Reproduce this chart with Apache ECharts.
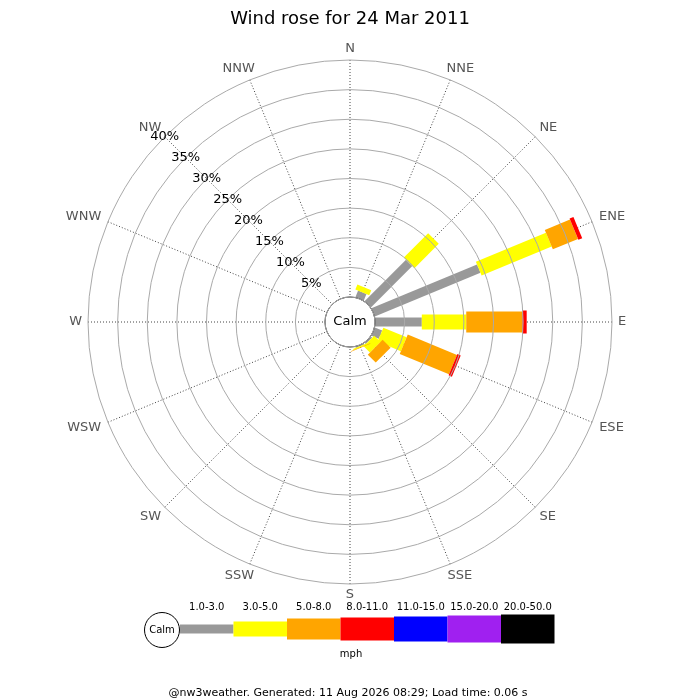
<!DOCTYPE html>
<html><head><meta charset="utf-8">
<script src="https://cdn.jsdelivr.net/npm/echarts@6/dist/echarts.min.js"></script>
<style>html,body{margin:0;padding:0;background:#fff}#c{width:700px;height:700px}</style>
</head><body><div id="c"></div>
<script>
const directions = ['N','NNE','NE','ENE','E','ESE','SE','SSE','S','SSW','SW','WSW','W','WNW','NW','NNW'];
const speedClasses = ['1.0-3.0','3.0-5.0','5.0-8.0','8.0-11.0','11.0-15.0','15.0-20.0','20.0-50.0'];
const speedColors = ['#999999','#ffff00','#ffa500','#ff0000','#0000ff','#a020f0','#000000'];
const barWidths = [9, 15, 21, 23, 25, 27, 29];
// percent of time, per direction (N..NNW), per speed class
const s1to3   = [0, 1.2, 9.9, 19.3, 7.9, 1.35, 0.3, 0.2, 0, 0, 0, 0, 0, 0, 0, 0];
const s3to5   = [0, 0.9, 5.8, 12.8, 7.5, 4.25, 1.5, 0.2, 0, 0, 0, 0, 0, 0, 0, 0];
const s5to8   = [0, 0,   0,   4.6,  9.5, 9.0,  1.9, 0.1, 0, 0, 0, 0, 0, 0, 0, 0];
const s8to11  = [0, 0,   0,   0.7,  0.7, 0.6,  0,   0,   0, 0, 0, 0, 0, 0, 0, 0];
const s11to15 = [0, 0, 0, 0, 0, 0, 0, 0, 0, 0, 0, 0, 0, 0, 0, 0];
const s15to20 = [0, 0, 0, 0, 0, 0, 0, 0, 0, 0, 0, 0, 0, 0, 0, 0];
const s20to50 = [0, 0, 0, 0, 0, 0, 0, 0, 0, 0, 0, 0, 0, 0, 0, 0];
const radiusMax = 40;
const radiusStep = 5;
const titleText = 'Wind rose for 24 Mar 2011';
const footerText = '@nw3weather. Generated: 11 Aug 2026 08:29; Load time: 0.06 s';
const unitText = 'mph';
const calmText = 'Calm';

const allSeries = [s1to3, s3to5, s5to8, s8to11, s11to15, s15to20, s20to50];
const dirAngle = i => { const a = i * 22.5; return a > 315 ? a - 360 : a; };
const barData = [];
const cum = directions.map(() => 0);
allSeries.forEach((vals, k) => {
  vals.forEach((v, i) => {
    if (v > 0) {
      barData.push([dirAngle(i), cum[i], cum[i] + v, k]);
      cum[i] += v;
    }
  });
});
const labelData = directions.map((d, i) => [dirAngle(i), radiusMax, i]);

const FONT = 'DejaVu Sans';
const measureCtx = document.createElement('canvas').getContext('2d');
measureCtx.font = '13px ' + FONT;

const chart = echarts.init(document.getElementById('c'), null, {renderer: 'canvas'});

const legendGraphics = [];
const lgX0 = 180, lgStep = 53.5, lgY = 629;
legendGraphics.push({type: 'circle', shape: {cx: 162, cy: 630, r: 17.5}, style: {fill: '#fff', stroke: '#000', lineWidth: 1}, z: 10});
legendGraphics.push({type: 'text', x: 162, y: 630, style: {text: calmText, font: '10px ' + FONT, fill: '#000', align: 'center', verticalAlign: 'middle'}, z: 11});
speedClasses.forEach((lab, k) => {
  legendGraphics.push({type: 'rect', shape: {x: lgX0 + k * lgStep, y: lgY - barWidths[k] / 2, width: lgStep, height: barWidths[k]}, style: {fill: speedColors[k]}, z: 9});
  legendGraphics.push({type: 'text', x: lgX0 + k * lgStep + lgStep / 2, y: 607, style: {text: lab, font: '10px ' + FONT, fill: '#000', align: 'center', verticalAlign: 'middle'}, z: 9});
});
legendGraphics.push({type: 'text', x: 351, y: 654, style: {text: unitText, font: '10px ' + FONT, fill: '#000', align: 'center', verticalAlign: 'middle'}});
legendGraphics.push({type: 'text', x: 348, y: 693, style: {text: footerText, font: '11px ' + FONT, fill: '#000', align: 'center', verticalAlign: 'middle'}});

chart.setOption({
  animation: false,
  backgroundColor: '#fff',
  title: {text: titleText, left: 'center', top: 5, textStyle: {fontFamily: FONT, fontSize: 18, fontWeight: 'normal', color: '#000'}},
  polar: {center: [350, 322], radius: [25, 262]},
  angleAxis: {
    type: 'value', min: -45, max: 315, interval: 22.5, startAngle: 135, clockwise: true,
    axisLine: {show: false}, axisTick: {show: false},
    splitLine: {show: true, lineStyle: {color: '#444', width: 1, type: [1, 2]}},
    axisLabel: {show: false}
  },
  radiusAxis: {
    type: 'value', min: 0, max: radiusMax, interval: radiusStep,
    axisLine: {show: false}, axisTick: {show: false},
    splitLine: {show: true, lineStyle: {color: '#aaaaaa', width: 1}},
    axisLabel: {show: true, margin: 0, align: 'center', verticalAlign: 'middle', fontFamily: FONT, fontSize: 13, color: '#000',
      formatter: v => v === 0 ? '' : v + '%'}, z: 5
  },
  series: [{
    type: 'custom', coordinateSystem: 'polar', data: barData,
    encode: {angle: 0, radius: 2},
    renderItem: (params, api) => {
      const ang = api.value(0), r0 = api.value(1), r1 = api.value(2), k = api.value(3);
      const cs = params.coordSys;
      const p0 = api.coord([r0, ang]), p1 = api.coord([r1, ang]);
      let ux = p1[0] - cs.cx, uy = p1[1] - cs.cy; const L = Math.hypot(ux, uy); ux /= L; uy /= L;
      const w = barWidths[k] / 2, nx = -uy * w, ny = ux * w;
      return {type: 'polygon', shape: {points: [[p0[0] + nx, p0[1] + ny], [p1[0] + nx, p1[1] + ny], [p1[0] - nx, p1[1] - ny], [p0[0] - nx, p0[1] - ny]]},
        style: {fill: speedColors[k]}};
    }, z: 2
  }, {
    type: 'custom', coordinateSystem: 'polar', data: [[0, 0]],
    renderItem: (params, api) => {
      const cs = params.coordSys;
      return {type: 'group', children: [
        {type: 'circle', shape: {cx: cs.cx, cy: cs.cy, r: cs.r0}, style: {fill: '#fff', stroke: '#000', lineWidth: 1}},
        {type: 'text', x: cs.cx, y: cs.cy, style: {text: calmText, font: '13px ' + FONT, fill: '#000', align: 'center', verticalAlign: 'middle'}}
      ]};
    }, z: 3
  }, {
    type: 'custom', coordinateSystem: 'polar', data: labelData,
    encode: {angle: 0, radius: 1},
    renderItem: (params, api) => {
      const cs = params.coordSys;
      const ang = api.value(0), idx = api.value(2);
      const name = directions[idx];
      const p = api.coord([radiusMax, ang]);
      let ux = p[0] - cs.cx, uy = p[1] - cs.cy; const L = Math.hypot(ux, uy); ux /= L; uy /= L;
      const hw = measureCtx.measureText(name).width / 2, hh = 5, m = 6;
      const diag = idx % 4 !== 0;
      const dx = ux * (m + hw) + (diag ? 2.5 * Math.sign(ux) : 0);
      const dy = uy * (m + hh) + (diag ? 1.2 * Math.sign(uy) : 0);
      return {type: 'text', x: p[0] + dx, y: p[1] + dy,
        style: {text: name, font: '13px ' + FONT, fill: '#555', align: 'center', verticalAlign: 'middle'}};
    }, z: 4
  }],
  graphic: legendGraphics
});
</script></body></html>
